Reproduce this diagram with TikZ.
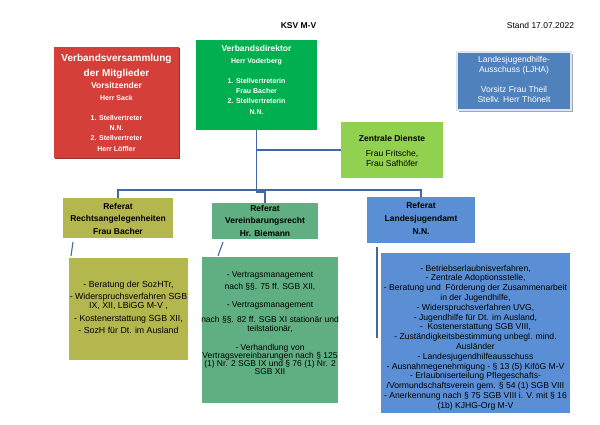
\documentclass[tikz,border=0pt]{standalone}
\usepackage{fontspec}
\setmainfont{Liberation Sans}
\definecolor{redbox}{HTML}{D43F3A}
\definecolor{redshadow}{HTML}{9E2E2A}
\definecolor{dirgreen}{HTML}{00B050}
\definecolor{ljhablue}{HTML}{4F81BD}
\definecolor{ljhaedge}{HTML}{DCE6F2}
\definecolor{zdgreen}{HTML}{92D050}
\definecolor{olivebox}{HTML}{B4B64E}
\definecolor{seagreen}{HTML}{60AF82}
\definecolor{refblue}{HTML}{5A8FD6}
\definecolor{linkblue}{HTML}{4467A8}
\newcommand{\fsz}[2]{\fontsize{#1}{#2}\selectfont\lineskiplimit=-20pt\relax}
\begin{document}
\begin{tikzpicture}[x=1pt,y=-1pt,
  box/.style={rectangle, inner sep=0pt, outer sep=0pt, draw=none},
  txt/.style={align=center, inner sep=0pt, outer sep=0pt},
  conn/.style={draw=linkblue, line width=1.4pt},
  thinconn/.style={draw=linkblue, line width=1.1pt}]
\useasboundingbox[fill=white] (0,0) rectangle (600,424);

% header
\node[txt, font=\fsz{8.5}{10}\bfseries, anchor=base] (title) at (298.5,28) {KSV M-V};
\node[txt, font=\fsz{8.5}{10}, anchor=base] (stand) at (540.5,28) {Stand 17.07.2022};

% Verbandsversammlung
\node[box, fill=redshadow, minimum width=125pt, minimum height=111pt] (redsh) at (117.5,103.5) {};
\node[box, fill=redbox, minimum width=125pt, minimum height=111pt] (red) at (116.5,102.5) {};
\node[txt, text=white, font=\fsz{7}{10.3}\bfseries] (redtxt) at (116.5,103)
 {\fsz{10}{10.3}Verbandsversammlung\\[4.7pt]\fsz{10}{10.3}der Mitglieder\\[2.2pt]\fsz{8.5}{10.3}Vorsitzender\\[1.2pt]Herr Sack\\[9.7pt]1. Stellvertreter\\N.N.\\2. Stellvertreter\\[0.5pt]Herr Löffler};

% Verbandsdirektor
\node[box, fill=dirgreen, minimum width=121pt, minimum height=90pt] (dir) at (256.5,85) {};
\node[txt, text=white, font=\fsz{7}{10.3}\bfseries] (dirtxt) at (256.5,80.2)
 {\fsz{8.5}{10.3}Verbandsdirektor\\[1.2pt]Herr Voderberg\\[9.7pt]1. Stellvertreterin\\Frau Bacher\\2. Stellvertreterin\\[0.7pt]N.N.};

% LJHA
\node[box, fill=black!35, minimum width=114pt, minimum height=58pt] (ljhash) at (516,83) {};
\node[box, fill=ljhablue, draw=ljhaedge, line width=1.2pt, minimum width=114pt, minimum height=58pt] (ljha) at (514,81) {};
\node[txt, text=white, font=\fsz{8.5}{10}] (ljhatxt) at (514,79)
 {Landesjugendhilfe-\\Ausschuss (LJHA)\\[10pt]Vorsitz Frau Theil\\Stellv. Herr Thönelt};

% Zentrale Dienste
\node[box, fill=zdgreen, minimum width=102pt, minimum height=56pt] (zd) at (392,150) {};
\node[txt, font=\fsz{8.5}{10}] (zdtxt) at (392,150.5)
 {\bfseries Zentrale Dienste\\[5pt]Frau Fritsche,\\Frau Safhöfer};

% Referate
\node[box, fill=olivebox, minimum width=110pt, minimum height=40pt] (rechts) at (118,218) {};
\node[txt, font=\fsz{8.5}{12.5}\bfseries] (rechtstxt) at (118,218.5)
 {Referat\\Rechtsangelegenheiten\\Frau Bacher};

\node[box, fill=seagreen, minimum width=106pt, minimum height=36pt] (verein) at (265,221) {};
\node[txt, font=\fsz{8.5}{12.5}\bfseries] (vereintxt) at (265,220.5)
 {Referat\\Vereinbarungsrecht\\Hr. Biemann};

\node[box, fill=refblue, minimum width=108pt, minimum height=46pt] (landes) at (421,220) {};
\node[txt, font=\fsz{8.5}{13}\bfseries] (landestxt) at (421,218)
 {Referat\\Landesjugendamt\\N.N.};

% Aufgaben
\node[box, fill=olivebox, minimum width=119pt, minimum height=102pt] (lowolive) at (128.5,309) {};
\node[txt, font=\fsz{8.8}{9}] (lowolivetxt) at (128.5,307.2)
 {- Beratung der SozHTr,\\[3.5pt]- Widerspruchsverfahren SGB\\IX, XII, LBiGG M-V ,\\[3.5pt]- Kostenerstattung SGB XII,\\[3.5pt]- SozH für Dt. im Ausland};

\node[box, fill=seagreen, minimum width=136pt, minimum height=146pt] (lowgreen) at (270,330) {};
\node[txt, font=\fsz{8.5}{8.3}] (lowgreentxt) at (270,323.5)
 {- Vertragsmanagement\\[3.7pt]nach §§. 75 ff. SGB XII,\\[9.7pt]- Vertragsmanagement\\[6.7pt]nach §§. 82 ff. SGB XI stationär und\\teilstationär,\\[10.7pt]- Verhandlung von\\Vertragsvereinbarungen nach § 125\\(1) Nr. 2 SGB IX und § 76 (1) Nr. 2\\SGB XII};

\node[box, fill=refblue, minimum width=189pt, minimum height=160pt] (lowblue) at (475.5,333) {};
\node[txt, font=\fsz{8.6}{9.8}] (lowbluetxt) at (475.5,337.5)
 {- Betriebserlaubnisverfahren,\\- Zentrale Adoptionsstelle,\\- Beratung und\ \ Förderung der Zusammenarbeit\\in der Jugendhilfe,\\- Widerspruchsverfahren UVG,\\- Jugendhilfe für Dt. im Ausland,\\-\ \ Kostenerstattung SGB VIII,\\- Zuständigkeitsbestimmung unbegl. mind.\\Ausländer\\- Landesjugendhilfeausschuss\\- Ausnahmegenehmigung - § 13 (5) KiföG M-V\\- Erlaubniserteilung Pflegeschafts-\\/Vormundschaftsverein gem. § 54 (1) SGB VIII\\- Anerkennung nach § 75 SGB VIII i. V. mit § 16\\(1b) KJHG-Org M-V};

% connectors
\coordinate (bus) at (300,190);
\coordinate (jog) at (256.5,192);
\draw[conn] (dir.south) -- (jog) -| (verein.north);
\draw[conn] (dir.south |- zd.west) -- (zd.west);
\draw[conn] (rechts.north) -- (rechts.north |- bus) -- (landes.north |- bus) -- (landes.north);

\coordinate (o1) at (73,242);
\coordinate (o2) at (71,256);
\coordinate (g1) at (223,242);
\coordinate (g2) at (218,256);
\coordinate (b1) at (377,247);
\coordinate (b2) at (377,338);
\draw[thinconn] (o1) -- (o2);
\draw[thinconn] (g1) -- (g2);
\draw[thinconn] (b1) -- (b2);
\end{tikzpicture}
\end{document}
